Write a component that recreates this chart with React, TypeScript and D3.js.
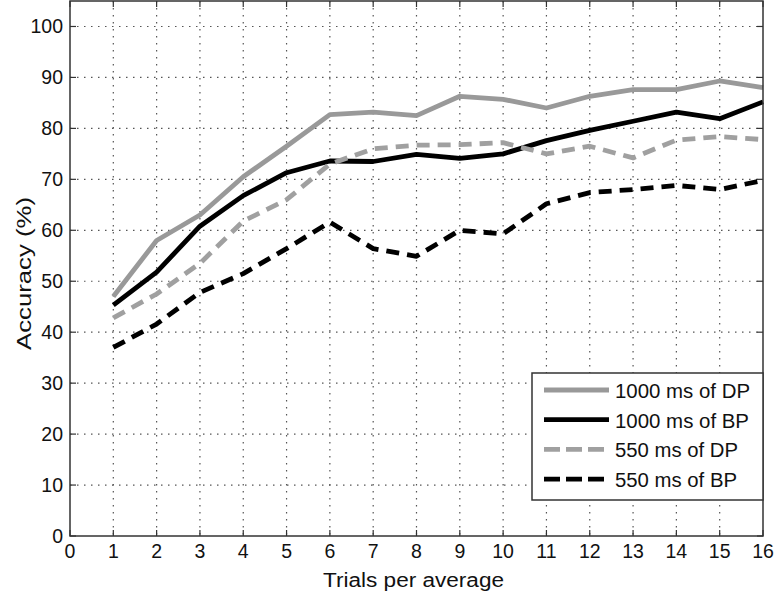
import React from "react";
import * as d3 from "d3";

const trials = [1, 2, 3, 4, 5, 6, 7, 8, 9, 10, 11, 12, 13, 14, 15, 16];
const dp1000 = [47, 58, 63, 70.5, 76.5, 82.7, 83.2, 82.5, 86.3, 85.7, 84, 86.3, 87.6, 87.6, 89.3, 88];
const bp1000 = [45.3, 51.8, 60.8, 66.8, 71.3, 73.6, 73.5, 74.9, 74.1, 75, 77.6, 79.6, 81.4, 83.2, 81.9, 85.2];
const dp550 = [42.8, 47.5, 53.5, 61.8, 66, 73, 76, 76.7, 76.8, 77.2, 75, 76.5, 74.2, 77.7, 78.4, 77.8];
const bp550 = [37, 41.6, 47.8, 51.5, 56.4, 61.6, 56.4, 54.9, 60, 59.3, 65.2, 67.4, 68, 68.8, 68, 69.8];
const xTicks = [0, 1, 2, 3, 4, 5, 6, 7, 8, 9, 10, 11, 12, 13, 14, 15, 16];
const yTicks = [0, 10, 20, 30, 40, 50, 60, 70, 80, 90, 100];
const seriesNames = ["1000 ms of DP", "1000 ms of BP", "550 ms of DP", "550 ms of BP"];

export default function App() {
  const W = 774, H = 593;
  const L = 70, R = 763, T = 1, B = 536;
  const x = d3.scaleLinear().domain([0, 16]).range([L, R]);
  const y = d3.scaleLinear().domain([0, 105]).range([B, T]);
  const line = d3.line<[number, number]>().x(d => x(d[0])).y(d => y(d[1]));
  const series = [
    { name: seriesNames[0], vals: dp1000, color: "#999999", dash: "none" },
    { name: seriesNames[1], vals: bp1000, color: "#000000", dash: "none" },
    { name: seriesNames[2], vals: dp550, color: "#a0a0a0", dash: "13,8" },
    { name: seriesNames[3], vals: bp550, color: "#000000", dash: "13,8" },
  ];
  const font = "Arial, 'Liberation Sans', sans-serif";
  return (
    <svg width={W} height={H} style={{ position: "absolute", left: 0, top: 0, background: "#fff" }}>
      <rect x={0} y={0} width={W} height={H} fill="#fff" />
      {/* grid */}
      {xTicks.slice(1, -1).map(t => (
        <line key={"gx" + t} x1={x(t)} x2={x(t)} y1={T} y2={B} stroke="#555" strokeWidth={1.2} strokeDasharray="1.5,5.5" />
      ))}
      {yTicks.slice(1).map(t => (
        <line key={"gy" + t} x1={L} x2={R} y1={y(t)} y2={y(t)} stroke="#555" strokeWidth={1.2} strokeDasharray="1.5,5.5" />
      ))}
      {/* ticks */}
      {xTicks.map(t => (
        <g key={"tx" + t}>
          <line x1={x(t)} x2={x(t)} y1={B} y2={B - 6} stroke="#333" strokeWidth={1.2} />
          <line x1={x(t)} x2={x(t)} y1={T} y2={T + 6} stroke="#333" strokeWidth={1.2} />
          <text x={x(t)} y={B + 22} textAnchor="middle" fontSize={19.5} fontFamily={font} fill="#111">{t}</text>
        </g>
      ))}
      {yTicks.map(t => (
        <g key={"ty" + t}>
          <line x1={L} x2={L + 6} y1={y(t)} y2={y(t)} stroke="#333" strokeWidth={1.2} />
          <line x1={R} x2={R - 6} y1={y(t)} y2={y(t)} stroke="#333" strokeWidth={1.2} />
          <text x={63} y={y(t) + 7} textAnchor="end" fontSize={19.5} fontFamily={font} fill="#111">{t}</text>
        </g>
      ))}
      {/* lines */}
      {series.map(s => (
        <path key={s.name} d={line(trials.map((t, i) => [t, s.vals[i]]) as [number, number][]) || ""}
          fill="none" stroke={s.color} strokeWidth={4.8} strokeDasharray={s.dash} strokeLinejoin="round" />
      ))}
      {/* axes box */}
      <rect x={L} y={T} width={R - L} height={B - T} fill="none" stroke="#333" strokeWidth={1.5} />
      {/* legend */}
      <rect x={532} y={373} width={R - 532} height={127} fill="#fff" stroke="#333" strokeWidth={1.5} />
      {series.map((s, i) => {
        const ly = 390 + i * 29.7;
        return (
          <g key={"lg" + i}>
            <line x1={544} x2={609} y1={ly} y2={ly} stroke={s.color} strokeWidth={4.8} strokeDasharray={s.dash === "none" ? "none" : "16,6"} />
            <text x={615} y={ly + 8} fontSize={20} fontFamily={font} fill="#111"
              textLength={i % 2 === 0 ? (i === 0 ? 135 : 123) : (i === 1 ? 134 : 122)} lengthAdjust="spacingAndGlyphs">{s.name}</text>
          </g>
        );
      })}
      {/* axis labels */}
      <text x={413.5} y={587} textAnchor="middle" fontSize={19.5} fontFamily={font} fill="#111"
        textLength={181} lengthAdjust="spacingAndGlyphs">Trials per average</text>
      <text transform={`translate(31,${273.5}) rotate(-90)`} textAnchor="middle" fontSize={21} fontFamily={font} fill="#111"
        textLength={153} lengthAdjust="spacingAndGlyphs">Accuracy (%)</text>
    </svg>
  );
}
